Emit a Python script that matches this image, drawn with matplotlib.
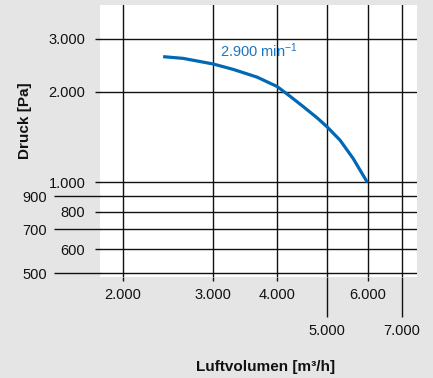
import matplotlib.pyplot as plt
from matplotlib.ticker import FixedLocator, FuncFormatter

plt.rcParams['font.family'] = ['Liberation Sans', 'DejaVu Sans']
plt.rcParams['mathtext.default'] = 'regular'

# curve
volume = [2394, 2618, 3000, 3278, 3650, 3993, 4232, 4486, 4779, 4998, 5298, 5616, 5990]
pressure = [2620, 2586, 2476, 2377, 2240, 2085, 1935, 1790, 1640, 1531, 1382, 1203, 1000]

x_ticks_near = [2000, 3000, 4000, 6000]
x_ticks_far = [5000, 7000]
y_ticks_near = [600, 800, 1000, 2000, 3000]
y_ticks_far = [500, 700, 900]

speed_label = '2.900 min$^{-1}$'
bg = '#e5e5e5'
blue = '#0068b4'


def dotted(v, pos=None):
    return f'{int(v):,}'.replace(',', '.')


fig = plt.figure(figsize=(4.33, 3.78), dpi=100, facecolor=bg)
ax = fig.add_axes([100 / 433, 1 - 277 / 378, 317 / 433, 272 / 378])
ax.set_facecolor('white')
ax.set_xscale('log')
ax.set_yscale('log')
ax.set_xlim(1803, 7484)
ax.set_ylim(485, 3891)

ax.plot(volume, pressure, color=blue, lw=2.3, solid_capstyle='butt',
        solid_joinstyle='round', zorder=3)
ax.text(3092, 2736, speed_label, color='#1f74bd', fontsize=10.5, va='center')

ax.xaxis.set_major_locator(FixedLocator(x_ticks_near))
ax.xaxis.set_minor_locator(FixedLocator(x_ticks_far))
ax.yaxis.set_major_locator(FixedLocator(y_ticks_near))
ax.yaxis.set_minor_locator(FixedLocator(y_ticks_far))
for a in (ax.xaxis, ax.yaxis):
    a.set_major_formatter(FuncFormatter(dotted))
    a.set_minor_formatter(FuncFormatter(dotted))

ax.tick_params(axis='x', which='major', length=3, width=1, pad=5,
               labelsize=10.5, colors='#111')
ax.tick_params(axis='x', which='minor', length=29, width=1, pad=5,
               labelsize=10.5, colors='#111')
ax.tick_params(axis='y', which='major', length=3.6, width=1, pad=7,
               labelsize=10.5, colors='#111')
ax.tick_params(axis='y', which='minor', length=33, width=1, pad=5,
               labelsize=10.5, colors='#111')

ax.grid(True, which='both', color='#111', lw=1)
for s in ax.spines.values():
    s.set_visible(False)

fig.text(266 / 433, 1 - 367 / 378, 'Luftvolumen [m³/h]', ha='center', va='center',
         fontsize=11, fontweight='bold', color='#111')
fig.text(25 / 433, 1 - 121 / 378, 'Druck [Pa]', ha='center', va='center',
         rotation=90, fontsize=11, fontweight='bold', color='#111')

fig.savefig('out.png', dpi=100, facecolor=bg)
